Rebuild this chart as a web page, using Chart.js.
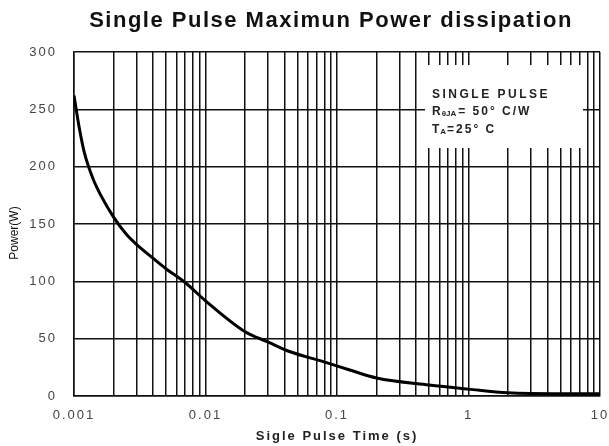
<!DOCTYPE html>
<html lang="en">
<head>
    <meta charset="UTF-8">
    <title>Single Pulse Maximun Power dissipation</title>
    <script src="https://cdn.jsdelivr.net/npm/chart.js"></script>
    <style>
        body { margin: 0; background: #fff; }
        #wrap { width: 609px; height: 446px; }
    </style>
</head>
<body>
    <div id="wrap"><canvas id="grafico"></canvas></div>
    <script>
        // pulse time (s) and max power (W)
        const tempos = [0.001, 0.0011, 0.0012, 0.0014, 0.0016, 0.002, 0.0025, 0.003, 0.004, 0.005, 0.007, 0.01,
                        0.02, 0.03, 0.044, 0.0786, 0.125, 0.2, 0.5, 1, 2, 5, 10];
        const potencia = [262, 233, 212, 189, 175, 156, 141, 132, 120, 111, 99, 83,
                          56, 47, 38.6, 30, 22.7, 15.7, 9.6, 6, 2.8, 2, 2];

        const decadas = [0.001, 0.01, 0.1, 1, 10];
        const rotulosX = ['0.001', '0.01', '0.1', '1', '10'];
        const multiplicadores = [1, 2, 3, 4, 5, 6, 7, 8, 9];
        const rotulosY = [0, 50, 100, 150, 200, 250, 300];

        const fonte = '"Liberation Sans", Arial, sans-serif';

        // the original print has widely spaced letters
        const espacamento = {
            id: 'espacamento',
            beforeUpdate(chart) { chart.ctx.letterSpacing = '2px'; },
            beforeDraw(chart) { chart.ctx.letterSpacing = '2px'; }
        };

        const textos = {
            id: 'textos',
            afterDraw(chart) {
                const ctx = chart.ctx;
                const area = chart.chartArea;
                ctx.save();

                // title
                ctx.letterSpacing = '1.5px';
                ctx.fillStyle = '#111';
                ctx.textAlign = 'center';
                ctx.textBaseline = 'alphabetic';
                ctx.font = 'bold 22px ' + fonte;
                ctx.fillText('Single Pulse Maximun Power dissipation', 331, 27);

                // y axis title
                ctx.save();
                ctx.letterSpacing = '0px';
                ctx.translate(15, 233);
                ctx.rotate(-Math.PI / 2);
                ctx.font = '12px ' + fonte;
                ctx.fillStyle = '#111';
                ctx.textBaseline = 'middle';
                ctx.fillText('Power(W)', 0, 0);
                ctx.restore();

                // note box
                ctx.textAlign = 'left';
                ctx.fillStyle = '#fff';
                ctx.fillRect(area.right - 175, area.top + 13, 158, 83);
                ctx.fillStyle = '#222';
                const grande = 'bold 12px ' + fonte;
                const pequena = 'bold 8px ' + fonte;
                const x = area.right - 168;
                ctx.font = grande;
                ctx.letterSpacing = '2.5px';
                ctx.fillText('SINGLE PULSE', x, area.top + 46);
                ctx.letterSpacing = '2px';
                ctx.fillText('R', x, area.top + 63);
                let w = ctx.measureText('R').width;
                ctx.font = pequena;
                ctx.letterSpacing = '0px';
                ctx.fillText('θJA', x + w - 1, area.top + 64);
                w += ctx.measureText('θJA').width;
                ctx.font = grande;
                ctx.letterSpacing = '2px';
                ctx.fillText('= 50° C/W', x + w + 1, area.top + 63);
                ctx.fillText('T', x, area.top + 81);
                w = ctx.measureText('T').width;
                ctx.font = pequena;
                ctx.letterSpacing = '0px';
                ctx.fillText('A', x + w - 1, area.top + 82);
                w += ctx.measureText('A').width;
                ctx.font = grande;
                ctx.letterSpacing = '2px';
                ctx.fillText('=25° C', x + w, area.top + 81);
                ctx.restore();
            }
        };

        new Chart(document.getElementById('grafico'), {
            type: 'line',
            data: {
                datasets: [{
                    data: tempos.map((t, i) => ({ x: t, y: potencia[i] })),
                    borderColor: '#000',
                    borderWidth: 3,
                    pointRadius: 0,
                    cubicInterpolationMode: 'monotone'
                }]
            },
            options: {
                animation: false,
                responsive: true,
                maintainAspectRatio: false,
                layout: { padding: { left: 0, right: 9, top: 52, bottom: 0 } },
                plugins: {
                    legend: { display: false },
                    tooltip: { enabled: false },
                    title: { display: false }
                },
                scales: {
                    x: {
                        type: 'logarithmic',
                        min: 0.001,
                        max: 10,
                        afterBuildTicks(scale) {
                            const ticks = [];
                            decadas.forEach((d, i) => {
                                if (i === decadas.length - 1) { ticks.push({ value: d }); return; }
                                multiplicadores.forEach(m => ticks.push({ value: +(d * m).toPrecision(3) }));
                            });
                            scale.ticks = ticks;
                        },
                        afterFit(scale) {
                            scale.height = 50;
                            scale.paddingLeft = 0;
                            scale.paddingRight = 0;
                        },
                        ticks: {
                            autoSkip: false,
                            maxRotation: 0,
                            color: '#444',
                            padding: 12,
                            font: { family: fonte, size: 13 },
                            callback(v) {
                                const i = decadas.findIndex(d => Math.abs(d - v) < d * 1e-6);
                                return i >= 0 ? rotulosX[i] : '';
                            }
                        },
                        grid: { color: '#111', lineWidth: 1.5, drawTicks: false },
                        border: { color: '#111', width: 1.5 },
                        title: {
                            display: true,
                            text: 'Sigle Pulse Time (s)',
                            color: '#222',
                            font: { family: fonte, size: 13, weight: 'bold' },
                            padding: { top: 2, bottom: 2 }
                        }
                    },
                    y: {
                        min: 0,
                        max: 300,
                        afterBuildTicks(scale) {
                            scale.ticks = rotulosY.map(v => ({ value: v }));
                        },
                        afterFit(scale) {
                            scale.width = 74;
                            scale.paddingTop = 0;
                            scale.paddingBottom = 0;
                        },
                        ticks: {
                            color: '#444',
                            padding: 17,
                            font: { family: fonte, size: 13 }
                        },
                        grid: { color: '#111', lineWidth: 1.5, drawTicks: false },
                        border: { color: '#111', width: 1.5 }
                    }
                }
            },
            plugins: [espacamento, textos]
        });
    </script>
</body>
</html>
